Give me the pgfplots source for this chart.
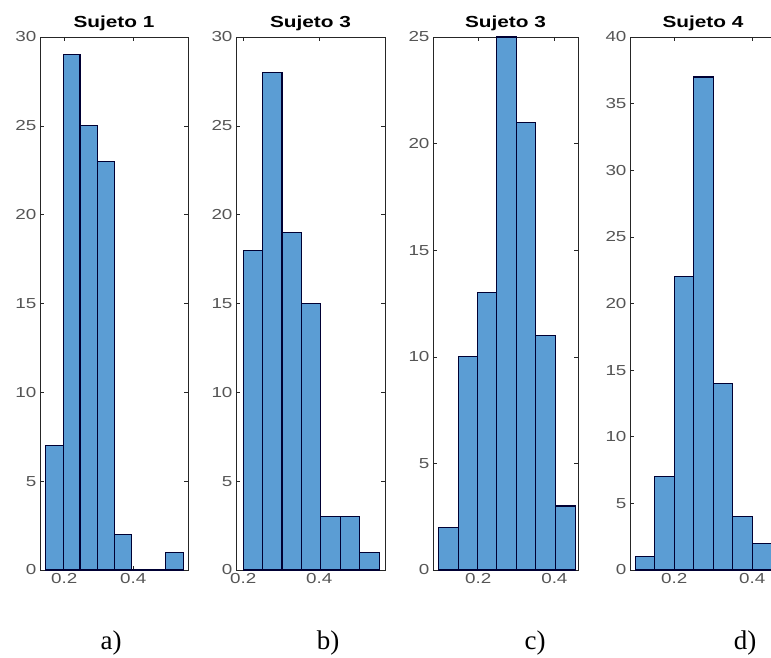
\documentclass[border=0pt]{standalone}
\usepackage{fontspec}
\setmainfont[FakeStretch=1.3]{Liberation Sans}
\newfontfamily\labelfont{Liberation Serif}
\usepackage{pgfplots}
\pgfplotsset{compat=1.18}

\definecolor{barblue}{RGB}{91,157,212}
\definecolor{axgray}{RGB}{38,38,38}
\definecolor{ticklab}{RGB}{85,85,85}

\pgfplotsset{histo/.style={
    scale only axis, anchor=south west,
    height=533pt, ymin=0,
    axis line style={axgray, line width=0.9pt},
    tick style={axgray, line width=0.6pt},
    major tick length=4pt, tick align=inside,
    xtick={0.2,0.4}, ytick distance=5,
    /pgf/number format/assume math mode=true,
    tick label style={font=\fontsize{14.5}{14.5}\selectfont, text=ticklab},
    title style={font=\bfseries\fontsize{16}{16}\selectfont, text=black, yshift=-3pt},
  },
  bars/.style={ybar interval, fill=barblue, draw=black!80!blue, line width=1.1pt}
}

\begin{document}
\begin{tikzpicture}

% a) Sujeto 1
\begin{axis}[histo, at={(40pt,87pt)}, width=148pt,
    xmin=0.130, xmax=0.559, ymax=30, title={Sujeto 1}]
\addplot[bars] coordinates {(0.147,7) (0.197,29) (0.246,25) (0.296,23) (0.346,2)
  (0.396,0) (0.445,0) (0.495,1) (0.545,1)};
\end{axis}

% b) Sujeto 3
\begin{axis}[histo, at={(236pt,87pt)}, width=149pt,
    xmin=0.181, xmax=0.573, ymax=30, title={Sujeto 3}]
\addplot[bars] coordinates {(0.200,18) (0.251,28) (0.302,19) (0.353,15) (0.404,3)
  (0.456,3) (0.507,1) (0.558,1)};
\end{axis}

% c) Sujeto 3
\begin{axis}[histo, at={(433pt,87pt)}, width=145pt,
    xmin=0.0816, xmax=0.462, ymax=25, title={Sujeto 3}]
\addplot[bars] coordinates {(0.095,2) (0.148,10) (0.198,13) (0.249,25) (0.301,21)
  (0.350,11) (0.402,3) (0.455,3)};
\end{axis}

% d) Sujeto 4
\begin{axis}[histo, at={(630pt,87pt)}, width=146pt,
    xmin=0.0864, xmax=0.4608, ymax=40, title={Sujeto 4}]
\addplot[bars] coordinates {(0.100,1) (0.150,7) (0.200,22) (0.250,37) (0.300,14)
  (0.350,4) (0.400,2) (0.450,2)};
\end{axis}

\node[font=\labelfont\fontsize{27}{27}\selectfont] at (111pt,14pt) {a)};
\node[font=\labelfont\fontsize{27}{27}\selectfont] at (328pt,14pt) {b)};
\node[font=\labelfont\fontsize{27}{27}\selectfont] at (535pt,14pt) {c)};
\node[font=\labelfont\fontsize{27}{27}\selectfont] at (745pt,14pt) {d)};

\pgfresetboundingbox
\path[use as bounding box] (0,0) rectangle (771pt,657pt);
\end{tikzpicture}
\end{document}
